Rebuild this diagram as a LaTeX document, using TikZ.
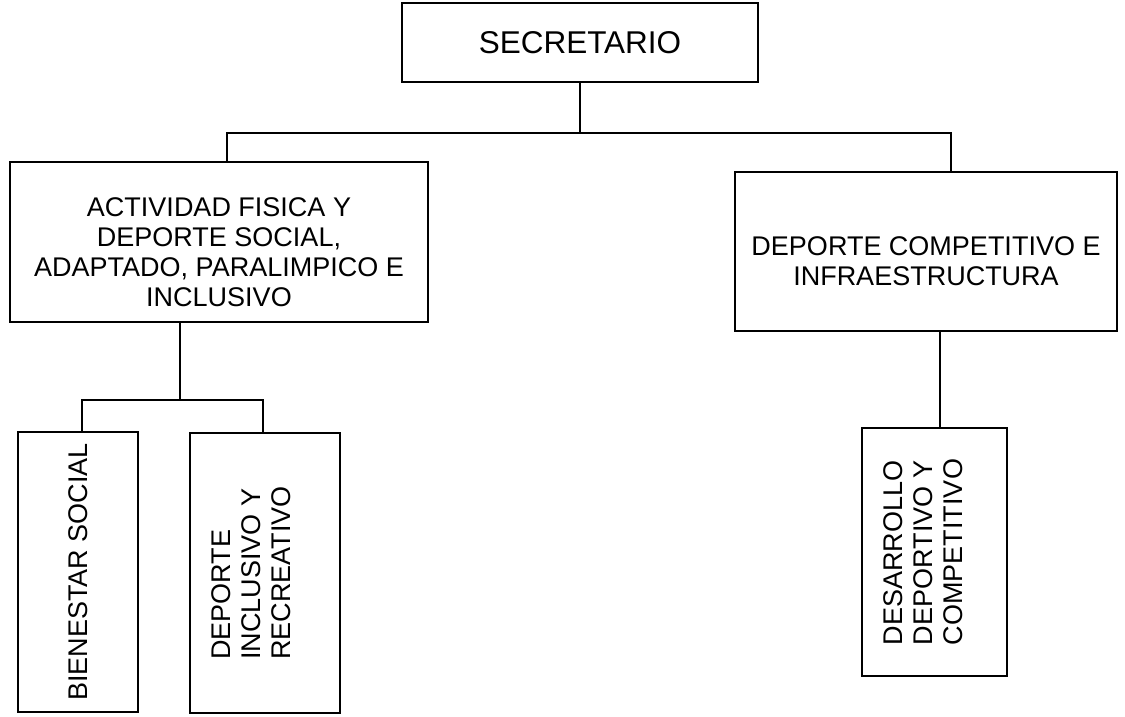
\documentclass[tikz,border=0pt]{standalone}
\usepackage{fontspec}
\setmainfont{Liberation Sans}
\tikzset{
  unidad/.style={draw, line width=1.4pt, inner sep=0pt},
  texto/.style={font=\fontsize{27}{30}\selectfont, align=center, inner sep=0pt},
  vertical/.style={texto, align=left},
  linea/.style={line width=1.3pt}
}
\begin{document}
\begin{tikzpicture}[x=1pt,y=-1pt]
\useasboundingbox (0,0) rectangle (1125,716);
\node[unidad, line width=2.6pt, minimum width=356pt, minimum height=79pt, font=\fontsize{31.5}{36}\selectfont] (secretario) at (580,42.5) {SECRETARIO};
\node[unidad, minimum width=418pt, minimum height=160pt,
  label={[texto, yshift=-10pt]center:{ACTIVIDAD FISICA Y\\DEPORTE SOCIAL,\\ADAPTADO, PARALIMPICO E\\INCLUSIVO}}] (actividad) at (219,242) {};
\node[unidad, minimum width=382pt, minimum height=159pt,
  label={[texto, yshift=-10pt]center:{DEPORTE COMPETITIVO E\\INFRAESTRUCTURA}}] (competitivo) at (926,251.5) {};
\node[unidad, minimum width=120pt, minimum height=280pt,
  label={[vertical, rotate=90]center:{BIENESTAR SOCIAL}}] (bienestar) at (78,572) {};
\node[unidad, minimum width=150pt, minimum height=280pt,
  label={[vertical, xshift=-14pt, rotate=90]center:{DEPORTE\\INCLUSIVO Y\\RECREATIVO}}] (inclusivo) at (265,573) {};
\node[unidad, minimum width=145pt, minimum height=248pt,
  label={[vertical, xshift=-11pt, rotate=90]center:{DESARROLLO\\DEPORTIVO Y\\COMPETITIVO}}] (desarrollo) at (934.5,552) {};
\draw[linea] (secretario.south) -- (secretario.south |- 0,133);
\draw[linea] (227,0 |- actividad.north) -- (227,133) -- (951,133) -- (951,0 |- competitivo.north);
\draw[linea] (180,0 |- actividad.south) -- (180,400);
\draw[linea] (82,0 |- bienestar.north) -- (82,400) -- (263,400) -- (263,0 |- inclusivo.north);
\draw[linea] (940,0 |- competitivo.south) -- (940,0 |- desarrollo.north);
\end{tikzpicture}
\end{document}
